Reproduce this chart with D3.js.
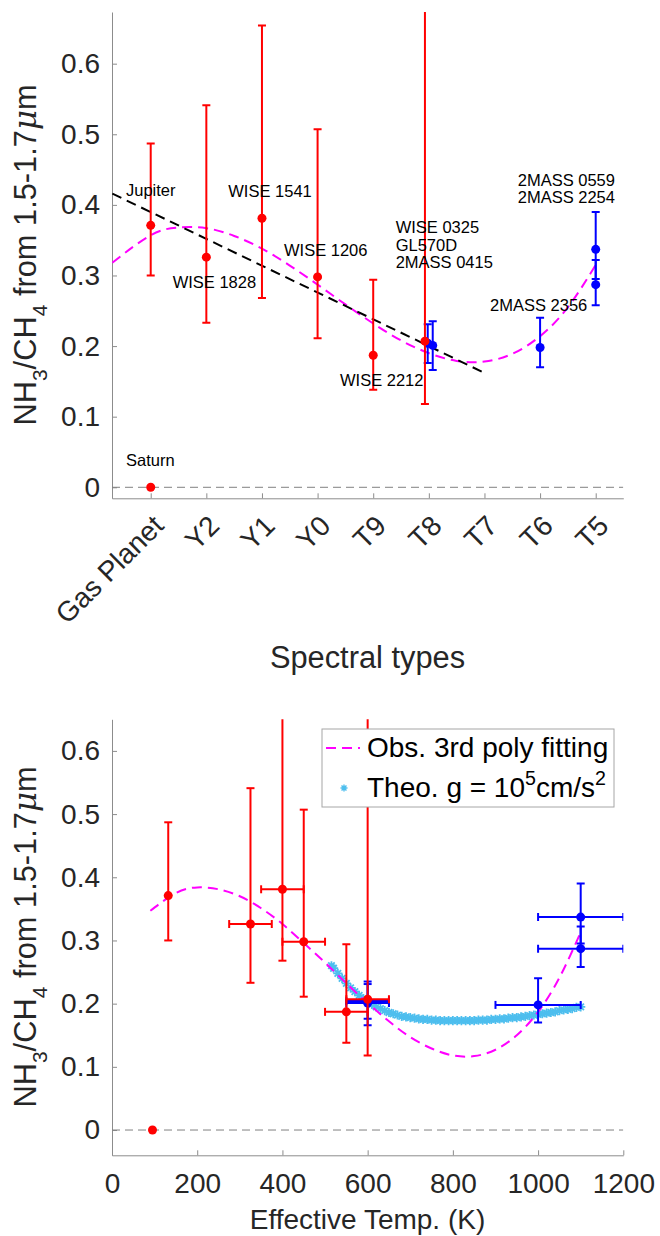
<!DOCTYPE html>
<html>
<head>
<meta charset="utf-8">
<script src="https://cdn.jsdelivr.net/npm/d3@7"></script>
<style>
  body { margin: 0; background: #fff; }
  svg { display: block; font-family: "Liberation Sans", Arial, Helvetica, sans-serif; }
  .axis path, .axis line { stroke: #8c8c8c; stroke-width: 1; }
  .axis text { fill: #262626; font-size: 28px; font-family: "Liberation Sans", Arial, sans-serif; }
  .note { font-size: 16.5px; fill: #000; }
</style>
</head>
<body>
<script>
// NH3/CH4 ratio vs spectral type (top) and vs effective temperature (bottom)

// ---- data ----
const spectralTypes = ["Gas Planet", "Y2", "Y1", "Y0", "T9", "T8", "T7", "T6", "T5"];
const ratioTicks = [0, 0.1, 0.2, 0.3, 0.4, 0.5, 0.6];
const tempTicks = [0, 200, 400, 600, 800, 1000, 1200];

// red: gas planets + Y/late-T dwarfs
const redNames   = ["Saturn", "Jupiter", "WISE 1828", "WISE 1541", "WISE 1206", "WISE 2212", "WISE 0325"];
const redType    = [0, 0, 1, 2, 3, 4, 4.93];
const redTemp    = [95, 132, 325, 400, 450, 550, 600];
const redTempLo  = [null, null, 275, 350, 400, 500, 550];
const redTempHi  = [null, null, 375, 450, 500, 600, 650];
const redRatio   = [0, 0.371, 0.326, 0.381, 0.298, 0.187, 0.207];
const redLo      = [null, 0.300, 0.233, 0.268, 0.211, 0.138, 0.118];
const redHi      = [null, 0.487, 0.541, 0.654, 0.507, 0.294, 0.720];

// blue: T dwarfs
const blueNames  = ["GL570D", "2MASS 0415", "2MASS 2356", "2MASS 0559", "2MASS 2254"];
const blueType   = [4.98, 5.07, 7, 8, 8];
const blueTemp   = [600, 600, 1000, 1100, 1100];
const blueTempLo = [550, 550, 900, 1000, 1000];
const blueTempHi = [650, 650, 1100, 1200, 1200];
const blueRatio  = [0.204, 0.201, 0.198, 0.337, 0.287];
const blueLo     = [0.176, 0.166, 0.170, 0.295, 0.258];
const blueHi     = [0.231, 0.235, 0.240, 0.390, 0.322];

// fits (top panel, vs spectral type index)
const typeFitX = [-0.69, 0, 0.5, 1, 1.5, 2, 2.5, 3, 3.5, 4, 4.5, 5, 5.5, 6, 6.5, 7, 7.5, 8];
const typeFitY = [0.318, 0.357, 0.368, 0.367, 0.356, 0.338, 0.314, 0.287, 0.259, 0.232, 0.208, 0.190, 0.179, 0.178, 0.189, 0.214, 0.255, 0.315];
const typeLineX = [-0.69, 6];
const typeLineY = [0.416, 0.162];

// fits (bottom panel, vs temperature)
const tempFitX = [90, 150, 200, 250, 300, 350, 400, 450, 500, 550, 600, 650, 700, 750, 800, 850, 900, 950, 1000, 1050, 1100];
const tempFitY = [0.347, 0.375, 0.384, 0.381, 0.370, 0.351, 0.326, 0.296, 0.265, 0.232, 0.201, 0.172, 0.147, 0.129, 0.118, 0.117, 0.127, 0.150, 0.187, 0.241, 0.313];

// theoretical model, g = 1e5 cm/s^2
const theoTemp = [515, 520, 530, 540, 550, 560, 570, 580, 590, 600, 610, 620, 630, 640, 650, 660, 670, 680, 690, 700,
  710, 720, 730, 740, 750, 760, 770, 780, 790, 800, 810, 820, 830, 840, 850, 860, 870, 880, 890, 900,
  910, 920, 930, 940, 950, 960, 970, 980, 990, 1000, 1010, 1020, 1030, 1040, 1050, 1060, 1070, 1080, 1090, 1100];
const theoRatio = [0.260, 0.256, 0.248, 0.240, 0.232, 0.225, 0.219, 0.213, 0.208, 0.203, 0.199, 0.195, 0.192, 0.189, 0.186, 0.184, 0.182, 0.180, 0.179, 0.178,
  0.177, 0.176, 0.175, 0.175, 0.174, 0.174, 0.173, 0.173, 0.173, 0.173, 0.173, 0.173, 0.173, 0.173, 0.173, 0.174, 0.174, 0.174, 0.175, 0.175,
  0.176, 0.176, 0.177, 0.178, 0.178, 0.179, 0.180, 0.181, 0.182, 0.183, 0.184, 0.185, 0.186, 0.187, 0.189, 0.190, 0.191, 0.192, 0.194, 0.195];

// text labels on the top panel, anchored in data units (type index, ratio)
const noteText = [["Saturn"], ["Jupiter"], ["WISE 1541"], ["WISE 1828"], ["WISE 1206"], ["WISE 2212"],
  ["WISE 0325", "GL570D", "2MASS 0415"], ["2MASS 0559", "2MASS 2254"], ["2MASS 2356"]];
const noteX = [-0.444, -0.444, 1.395, 0.395, 2.396, 3.403, 4.404, 6.598, 6.10];
const noteY = [0.030, 0.413, 0.411, 0.282, 0.327, 0.143, 0.360, 0.427, 0.249];

const legendLabels = ["Obs. 3rd poly fitting", "Theo. g = 10"];

// ---- drawing ----
const W = 660, H = 1236;
const RED = "#ff0000", BLUE = "#0000ff", MAGENTA = "#ff00ff", CYAN = "#4dbeee";

const svg = d3.select("body").append("svg").attr("width", W).attr("height", H);
const defs = svg.append("defs");

const xType = d3.scaleLinear().domain([-0.696, 8.496]).range([112, 623.3]);
const yTop = d3.scaleLinear().domain([-0.0156, 0.6732]).range([498.3, 12]);
const xTemp = d3.scaleLinear().domain([0, 1200]).range([112, 623.3]);
const yBot = d3.scaleLinear().domain([-0.04, 0.65]).range([1155.3, 719.3]);

function rows(n, fn) { return d3.range(n).map(fn); }
const redRows = rows(redNames.length, i => ({
  type: redType[i], temp: redTemp[i], tLo: redTempLo[i], tHi: redTempHi[i],
  v: redRatio[i], lo: redLo[i], hi: redHi[i]
}));
const blueRows = rows(blueNames.length, i => ({
  type: blueType[i], temp: blueTemp[i], tLo: blueTempLo[i], tHi: blueTempHi[i],
  v: blueRatio[i], lo: blueLo[i], hi: blueHi[i]
}));

function clipFor(id, x, y) {
  defs.append("clipPath").attr("id", id).append("rect")
    .attr("x", x.range()[0]).attr("y", y.range()[1])
    .attr("width", x.range()[1] - x.range()[0])
    .attr("height", y.range()[0] - y.range()[1]);
  return `url(#${id})`;
}

function zeroLine(g, x, y) {
  g.append("line")
    .attr("x1", x.range()[0]).attr("x2", x.range()[1])
    .attr("y1", y(0)).attr("y2", y(0))
    .attr("stroke", "#808080").attr("stroke-width", 1)
    .attr("stroke-dasharray", "8,5");
}

function dashed(g, xs, ys, x, y, color) {
  const line = d3.line().x(d => x(d[0])).y(d => y(d[1])).curve(d3.curveNatural);
  g.append("path")
    .datum(xs.map((v, i) => [v, ys[i]]))
    .attr("d", line)
    .attr("fill", "none")
    .attr("stroke", color).attr("stroke-width", 2)
    .attr("stroke-dasharray", "10,6");
}

function errorBars(g, data, xKey, x, y, color, horiz) {
  const cap = 4;
  const grp = g.append("g").attr("stroke", color).attr("stroke-width", 2).attr("fill", "none");
  data.forEach(d => {
    const cx = x(d[xKey]);
    if (d.lo != null) {
      grp.append("line").attr("x1", cx).attr("x2", cx).attr("y1", y(d.lo)).attr("y2", y(d.hi));
      [d.lo, d.hi].forEach(v => grp.append("line")
        .attr("x1", cx - cap).attr("x2", cx + cap).attr("y1", y(v)).attr("y2", y(v)));
    }
    if (horiz && d.tLo != null) {
      const cy = y(d.v);
      grp.append("line").attr("x1", x(d.tLo)).attr("x2", x(d.tHi)).attr("y1", cy).attr("y2", cy);
      [d.tLo, d.tHi].forEach(v => grp.append("line")
        .attr("x1", x(v)).attr("x2", x(v)).attr("y1", cy - cap).attr("y2", cy + cap));
    }
  });
  g.append("g").selectAll("circle").data(data).join("circle")
    .attr("cx", d => x(d[xKey])).attr("cy", d => y(d.v))
    .attr("r", 4.5).attr("fill", color);
}

function starPath(s) {
  const a = s * 0.7071;
  return `M${-s},0H${s}M0,${-s}V${s}M${-a},${-a}L${a},${a}M${-a},${a}L${a},${-a}`;
}

function yLabel(cx, cy) {
  const t = svg.append("text")
    .attr("transform", `translate(${cx},${cy}) rotate(-90)`)
    .attr("text-anchor", "middle")
    .attr("fill", "#262626")
    .style("font-size", "30.8px");
  t.append("tspan").text("NH");
  t.append("tspan").attr("dy", 11).style("font-size", "21px").text("3");
  t.append("tspan").attr("dy", -11).text("/CH");
  t.append("tspan").attr("dy", 11).style("font-size", "21px").text("4");
  t.append("tspan").attr("dy", -11).text(" from 1.5-1.7");
  t.append("tspan").style("font-style", "italic").style("font-family", "'DejaVu Serif', serif").text("\u03bc");
  t.append("tspan").text("m");
}

const fmt = d => d === 0 ? "0" : d3.format(".1f")(d);

// ===== top panel =====
const topPanel = svg.append("g");
const clipTop = clipFor("clip-top", xType, yTop);

topPanel.append("g").attr("class", "axis")
  .attr("transform", `translate(${xType.range()[0]},0)`)
  .call(d3.axisLeft(yTop).tickValues(ratioTicks).tickFormat(fmt).tickSize(-5).tickSizeOuter(0).tickPadding(12));

const xAxTop = topPanel.append("g").attr("class", "axis")
  .attr("transform", `translate(0,${yTop.range()[0]})`)
  .call(d3.axisBottom(xType).tickValues(d3.range(spectralTypes.length))
    .tickFormat(i => spectralTypes[i]).tickSize(-5).tickSizeOuter(0));
xAxTop.selectAll(".tick text")
  .attr("x", 0).attr("y", 0).attr("dy", "0.71em")
  .attr("text-anchor", "end")
  .attr("transform", "translate(0,15) rotate(-45)");

const plotTop = topPanel.append("g").attr("clip-path", clipTop);
zeroLine(plotTop, xType, yTop);
dashed(plotTop, typeFitX, typeFitY, xType, yTop, MAGENTA);
dashed(plotTop, typeLineX, typeLineY, xType, yTop, "#000");
errorBars(plotTop, blueRows, "type", xType, yTop, BLUE, false);
errorBars(plotTop, redRows, "type", xType, yTop, RED, false);

noteText.forEach((lines, i) => {
  const t = topPanel.append("text").attr("class", "note")
    .attr("x", xType(noteX[i])).attr("y", yTop(noteY[i]));
  lines.forEach((s, j) => t.append("tspan")
    .attr("x", xType(noteX[i])).attr("dy", j === 0 ? 0 : 17.5).text(s));
});

svg.append("text").attr("x", 367.5).attr("y", 668)
  .attr("text-anchor", "middle").attr("fill", "#262626")
  .style("font-size", "30.8px").text("Spectral types");
yLabel(36, 255);

// ===== bottom panel =====
const botPanel = svg.append("g");
const clipBot = clipFor("clip-bot", xTemp, yBot);

botPanel.append("g").attr("class", "axis")
  .attr("transform", `translate(${xTemp.range()[0]},0)`)
  .call(d3.axisLeft(yBot).tickValues(ratioTicks).tickFormat(fmt).tickSize(-5).tickSizeOuter(0).tickPadding(12));

botPanel.append("g").attr("class", "axis")
  .attr("transform", `translate(0,${yBot.range()[0]})`)
  .call(d3.axisBottom(xTemp).tickValues(tempTicks).tickFormat(d3.format("d"))
    .tickSize(-5).tickSizeOuter(0).tickPadding(18));

const plotBot = botPanel.append("g").attr("clip-path", clipBot);
zeroLine(plotBot, xTemp, yBot);
plotBot.append("g").selectAll("path")
  .data(theoTemp.map((t, i) => [t, theoRatio[i]]))
  .join("path")
  .attr("transform", d => `translate(${xTemp(d[0])},${yBot(d[1])})`)
  .attr("d", starPath(4.6))
  .attr("stroke", CYAN).attr("stroke-width", 1.8).attr("fill", "none");
dashed(plotBot, tempFitX, tempFitY, xTemp, yBot, MAGENTA);
errorBars(plotBot, blueRows, "temp", xTemp, yBot, BLUE, true);
errorBars(plotBot, redRows, "temp", xTemp, yBot, RED, true);

// legend
const lg = botPanel.append("g");
lg.append("rect").attr("x", 322).attr("y", 729).attr("width", 292).attr("height", 78)
  .attr("fill", "#fff").attr("stroke", "#a6a6a6").attr("stroke-width", 1);
lg.append("line").attr("x1", 326).attr("x2", 360).attr("y1", 748).attr("y2", 748)
  .attr("stroke", MAGENTA).attr("stroke-width", 2).attr("stroke-dasharray", "10,6");
lg.append("path").attr("transform", "translate(344,788)").attr("d", starPath(3.5))
  .attr("stroke", CYAN).attr("stroke-width", 1.4).attr("fill", "none");
lg.append("text").attr("x", 367).attr("y", 757).attr("fill", "#000")
  .style("font-size", "28px").text(legendLabels[0]);
const lt = lg.append("text").attr("x", 367).attr("y", 797).attr("fill", "#000").style("font-size", "28px");
lt.append("tspan").text(legendLabels[1]);
lt.append("tspan").attr("dy", -12).style("font-size", "19.6px").text("5");
lt.append("tspan").attr("dy", 12).text("cm/s");
lt.append("tspan").attr("dy", -12).style("font-size", "19.6px").text("2");

svg.append("text").attr("x", 367.5).attr("y", 1229)
  .attr("text-anchor", "middle").attr("fill", "#262626")
  .style("font-size", "28px").text("Effective Temp. (K)");
yLabel(36, 937);
</script>
</body>
</html>
